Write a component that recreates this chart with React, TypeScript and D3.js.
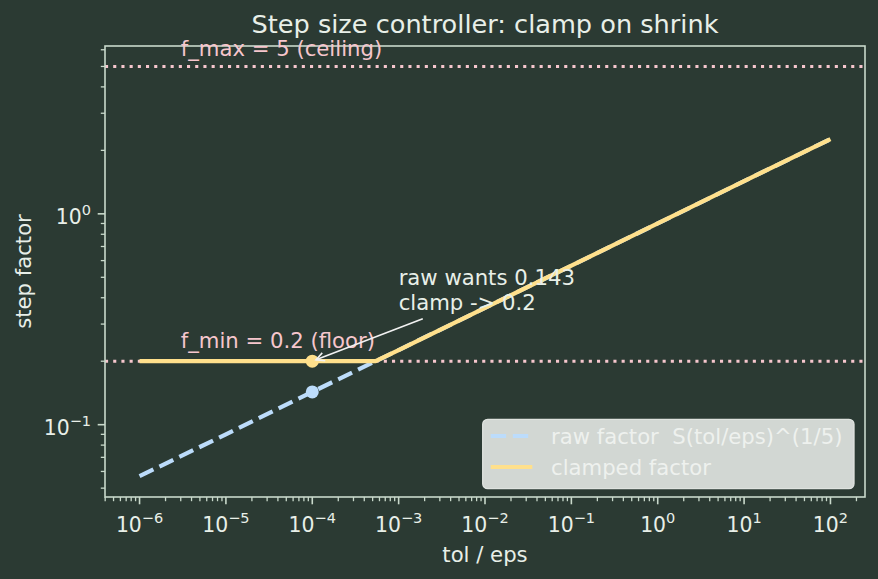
import * as d3 from 'd3'

// tol/eps sample points (log spaced, plus the clamp kink)
const tolRatio = [1e-6, 1e-5, 1e-4, 5.4e-4, 1e-3, 1e-2, 1e-1, 1, 10, 100]
const rawFactor = [0.057, 0.09, 0.143, 0.2, 0.226, 0.358, 0.568, 0.9, 1.43, 2.26]
const clampedFactor = [0.2, 0.2, 0.2, 0.2, 0.226, 0.358, 0.568, 0.9, 1.43, 2.26]

const fMin = 0.2
const fMax = 5
const probeX = 1e-4
const probeRaw = 0.143
const probeClamped = 0.2

const xMajorExp = [-6, -5, -4, -3, -2, -1, 0, 1, 2]
const yMajorExp = [-1, 0]

const W = 878
const H = 579
const M = { left: 105, right: 865, top: 46, bottom: 497 }

const BG = '#2b3a33'
const FRAME = '#c9d9cb'
const TEXT = '#e8efe8'
const BLUE = '#bcdcfb'
const YELLOW = '#ffe08c'
const PINK = '#f6c6cd'
const FONT = '"DejaVu Sans", sans-serif'
const FS = 21.2

const minus = (n: number) => (n < 0 ? '\u2212' + Math.abs(n) : String(n))

export default function App() {
  const x = d3.scaleLog().domain([10 ** -6.4, 10 ** 2.4]).range([M.left, M.right])
  const y = d3.scaleLog().domain([10 ** -1.343, 10 ** 0.796]).range([M.bottom, M.top])

  const pts = (ys: number[]) => tolRatio.map((t, i) => [t, ys[i]] as [number, number])
  const line = d3
    .line<[number, number]>()
    .x((d) => x(d[0]))
    .y((d) => y(d[1]))

  const minorTicks = (scale: d3.ScaleLogarithmic<number, number>, lo: number, hi: number) => {
    const out: number[] = []
    const [d0, d1] = scale.domain()
    for (let e = lo; e <= hi; e++) {
      for (let m = 2; m <= 9; m++) {
        const v = m * 10 ** e
        if (v >= d0 && v <= d1) out.push(v)
      }
    }
    return out
  }
  const xMinor = minorTicks(x, -7, 2)
  const yMinor = minorTicks(y, -2, 0)

  // annotation geometry
  const annX = x(1e-3)
  const annY = y(0.35)
  const lineGap = 24.5
  const boxL = annX
  const boxR = annX + 178
  const boxT = annY - lineGap - 16
  const boxB = annY + 8
  const cx = (boxL + boxR) / 2
  const cy = (boxT + boxB) / 2
  const tx = x(probeX)
  const ty = y(probeClamped)
  const tt = (boxB - cy) / (ty - cy)
  let sx = cx + (tx - cx) * tt
  let sy = boxB
  const len = Math.hypot(tx - sx, ty - sy)
  const ux = (tx - sx) / len
  const uy = (ty - sy) / len
  sx += ux * 2
  sy += uy * 2
  const ex = tx - ux * 4
  const ey = ty - uy * 4
  const hl = 8.3
  const hw = 4.2
  const head = `M${ex - ux * hl - uy * hw},${ey - uy * hl + ux * hw}L${ex},${ey}L${ex - ux * hl + uy * hw},${ey - uy * hl - ux * hw}`

  const lw = 4.2
  const dash = '15.4,6.7'

  return (
    <svg width={W} height={H} style={{ display: 'block', position: 'absolute', left: 0, top: 0 }} fontFamily={FONT}>
      <rect width={W} height={H} fill={BG} />

      <defs>
        <clipPath id="plot">
          <rect x={M.left} y={M.top} width={M.right - M.left} height={M.bottom - M.top} />
        </clipPath>
      </defs>

      <g clipPath="url(#plot)">
        {[fMin, fMax].map((v) => (
          <line key={v} x1={M.left} x2={M.right} y1={y(v)} y2={y(v)} stroke={PINK} strokeWidth={3.1} strokeDasharray="3.1,5.1" />
        ))}
        <path d={line(pts(rawFactor)) ?? ''} fill="none" stroke={BLUE} strokeWidth={lw} strokeDasharray={dash} />
        <path d={line(pts(clampedFactor)) ?? ''} fill="none" stroke={YELLOW} strokeWidth={lw} strokeLinejoin="round" />
        <circle cx={x(probeX)} cy={y(probeRaw)} r={6.5} fill={BLUE} />
        <circle cx={x(probeX)} cy={y(probeClamped)} r={6.5} fill={YELLOW} />
      </g>

      {/* frame */}
      <rect x={M.left} y={M.top} width={M.right - M.left} height={M.bottom - M.top} fill="none" stroke={FRAME} strokeWidth={1.6} />

      {/* x ticks */}
      {xMinor.map((v) => (
        <line key={'xm' + v} x1={x(v)} x2={x(v)} y1={M.bottom} y2={M.bottom + 4.2} stroke={FRAME} strokeWidth={1.3} />
      ))}
      {xMajorExp.map((e) => (
        <g key={'x' + e}>
          <line x1={x(10 ** e)} x2={x(10 ** e)} y1={M.bottom} y2={M.bottom + 7.3} stroke={FRAME} strokeWidth={1.6} />
          <text x={x(10 ** e)} y={532} fill={TEXT} fontSize={20.4} textAnchor="middle">
            10<tspan fontSize={14.5} dy={-9}>{minus(e)}</tspan>
          </text>
        </g>
      ))}

      {/* y ticks */}
      {yMinor.map((v) => (
        <line key={'ym' + v} x1={M.left} x2={M.left - 4.2} y1={y(v)} y2={y(v)} stroke={FRAME} strokeWidth={1.3} />
      ))}
      {yMajorExp.map((e) => (
        <g key={'y' + e}>
          <line x1={M.left} x2={M.left - 7.3} y1={y(10 ** e)} y2={y(10 ** e)} stroke={FRAME} strokeWidth={1.6} />
          <text x={91} y={y(10 ** e) + 10} fill={TEXT} fontSize={20.4} textAnchor="end">
            10<tspan fontSize={14.5} dy={-8.5}>{minus(e)}</tspan>
          </text>
        </g>
      ))}

      {/* labels */}
      <text x={(M.left + M.right) / 2} y={33} fill={TEXT} fontSize={25.6} textAnchor="middle">
        Step size controller: clamp on shrink
      </text>
      <text x={(M.left + M.right) / 2} y={562} fill={TEXT} fontSize={FS} textAnchor="middle">
        tol / eps
      </text>
      <text transform={`translate(31,${(M.top + M.bottom) / 2}) rotate(-90)`} fill={TEXT} fontSize={FS} textAnchor="middle">
        step factor
      </text>

      {/* reference labels */}
      <text x={x(3e-6)} y={y(fMax * 1.12)} fill={PINK} fontSize={FS}>
        f_max = 5 (ceiling)
      </text>
      <text x={x(3e-6)} y={y(fMin * 1.15)} fill={PINK} fontSize={FS}>
        f_min = 0.2 (floor)
      </text>

      {/* annotation */}
      <text x={annX} y={annY - lineGap} fill={TEXT} fontSize={FS}>
        raw wants 0.143
      </text>
      <text x={annX} y={annY} fill={TEXT} fontSize={FS}>
        clamp -&gt; 0.2
      </text>
      <line x1={sx} y1={sy} x2={ex} y2={ey} stroke="#f2f2f2" strokeWidth={1.6} />
      <path d={head} fill="none" stroke="#f2f2f2" strokeWidth={1.6} />

      {/* legend */}
      <g>
        <rect x={482.7} y={419.3} width={371.3} height={69.4} rx={5} fill="#d2d7d3" stroke="#dfe3df" strokeWidth={1.3} />
        <line x1={490.7} x2={532.3} y1={436} y2={436} stroke={BLUE} strokeWidth={lw} strokeDasharray={dash} />
        <text x={551} y={444} fill="#eef1ee" fontSize={FS} style={{ whiteSpace: 'pre' }}>
          {'raw factor  S(tol/eps)^(1/5)'}
        </text>
        <line x1={490.7} x2={532.3} y1={467} y2={467} stroke={YELLOW} strokeWidth={lw} />
        <text x={551} y={474.5} fill="#eef1ee" fontSize={FS}>
          clamped factor
        </text>
      </g>
    </svg>
  )
}
